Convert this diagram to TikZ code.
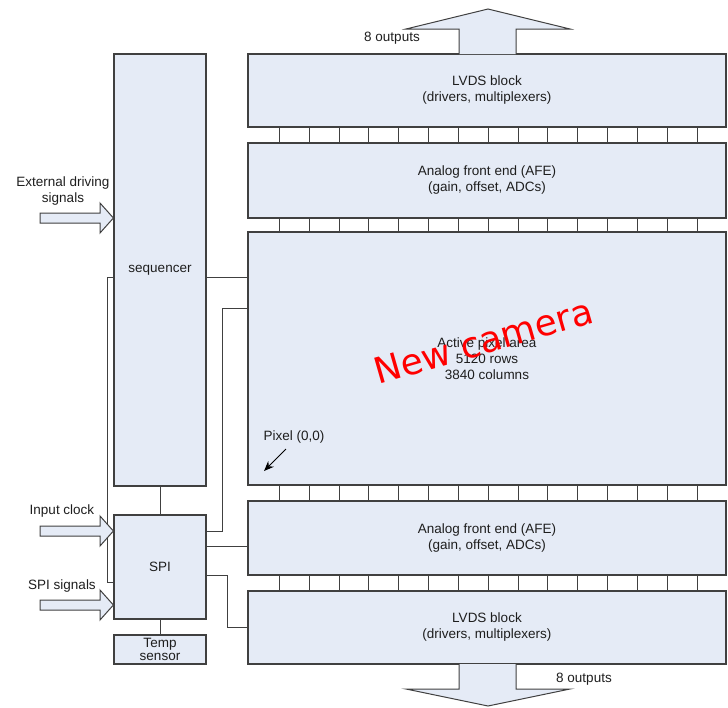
\documentclass[tikz,border=0pt]{standalone}
\usepackage{fontspec}
\setmainfont{Liberation Sans}
\newfontfamily\wmfont{DejaVu Sans}
\usetikzlibrary{arrows.meta}
\definecolor{boxfill}{RGB}{229,235,246}
\definecolor{edge}{RGB}{64,64,64}
\definecolor{txt}{RGB}{30,30,30}
\tikzset{
  blk/.style={draw=edge, line width=1.2pt, fill=boxfill, inner sep=0pt, align=center, text=txt,
    font=\fontsize{13.5}{16}\selectfont},
  wire/.style={draw=edge, line width=1pt},
  barrow/.style={draw=edge, line width=1pt, fill=boxfill, line join=miter},
  lbl/.style={text=txt, align=center, inner sep=0pt, font=\fontsize{13.5}{16}\selectfont},
}
\begin{document}
\begin{tikzpicture}[x=1pt,y=-1pt]
\useasboundingbox (0,0) rectangle (728,707);
% left column
\node[blk, minimum width=92pt, minimum height=432pt] (seq) at (160,270) {sequencer};
\node[blk, minimum width=92pt, minimum height=104pt] (spi) at (160,567) {SPI};
\node[blk, minimum width=92pt, minimum height=29pt] (temp) at (160,649.5) {Temp\\[-3pt]sensor};
% right column
\node[blk, minimum width=478pt, minimum height=73pt] (lvds1) at (487,90.5) {LVDS block\\(drivers, multiplexers)};
\node[blk, minimum width=478pt, minimum height=75pt] (afe1) at (487,180.5) {Analog front end (AFE)\\(gain, offset, ADCs)};
\node[blk, minimum width=478pt, minimum height=253pt] (act) at (487,358.5) {Active pixel area\\5120 rows\\3840 columns};
\node[blk, minimum width=478pt, minimum height=74pt] (afe2) at (487,538) {Analog front end (AFE)\\(gain, offset, ADCs)};
\node[blk, minimum width=478pt, minimum height=73pt] (lvds2) at (487,627.5) {LVDS block\\(drivers, multiplexers)};
% connector strips
\foreach \i in {0,...,14}{
  \pgfmathsetmacro{\xx}{279.3+\i*29.85}
  \draw[wire] (\xx,127) -- (\xx,143);
  \draw[wire] (\xx,218) -- (\xx,232);
  \draw[wire] (\xx,485) -- (\xx,501);
  \draw[wire] (\xx,575) -- (\xx,591);
}
% wires
\draw[wire] (seq.east |- 0,277) -- (act.west |- 0,277);
\draw[wire] (seq.west |- 0,277) -- (107,277) -- (107,582) -- (spi.west |- 0,582);
\draw[wire] (seq.south) -- (spi.north);
\draw[wire] (spi.south) -- (temp.north);
\draw[wire] (spi.east |- 0,531) -- (222,531) -- (222,308) -- (act.west |- 0,308);
\draw[wire] (spi.east |- 0,546) -- (afe2.west |- 0,546);
\draw[wire] (spi.east |- 0,575) -- (227,575) -- (227,627) -- (lvds2.west |- 0,627);
% block arrows
\draw[barrow] (40,213) -- (100,213) -- (100,203) -- (seq.west |- 0,218) -- (100,233) -- (100,223) -- (40,223) -- cycle;
\draw[barrow] (40,526) -- (100,526) -- (100,516) -- (spi.west |- 0,531) -- (100,546) -- (100,536) -- (40,536) -- cycle;
\draw[barrow] (40,600) -- (100,600) -- (100,590) -- (spi.west |- 0,605) -- (100,620) -- (100,610) -- (40,610) -- cycle;
\draw[barrow] (459,54) -- (459,29) -- (406,29) -- (488,9) -- (570,29) -- (516,29) -- (516,54);
\draw[barrow] (459,664) -- (459,689) -- (406,689) -- (488,706) -- (570,689) -- (516,689) -- (516,664);
% labels
\node[lbl] (ext) at (63,191) {External driving\\signals};
\node[lbl] (clk) at (62,511) {Input clock};
\node[lbl] (spis) at (62,586) {SPI signals};
\node[lbl] (out1) at (392,38) {8 outputs};
\node[lbl] (out2) at (584,679) {8 outputs};
\node[lbl] (pix) at (294,437) {Pixel (0,0)};
\coordinate (pixtip) at (264,471);
\draw[line width=1pt, -{Stealth[length=10pt,width=8pt]}] (286,449) -- (pixtip);
% watermark
\node[anchor=base west, rotate=16, inner sep=0pt, text=red, font=\wmfont\fontsize{36}{40}\selectfont] (wm) at (378,385) {New camera};
\end{tikzpicture}
\end{document}
